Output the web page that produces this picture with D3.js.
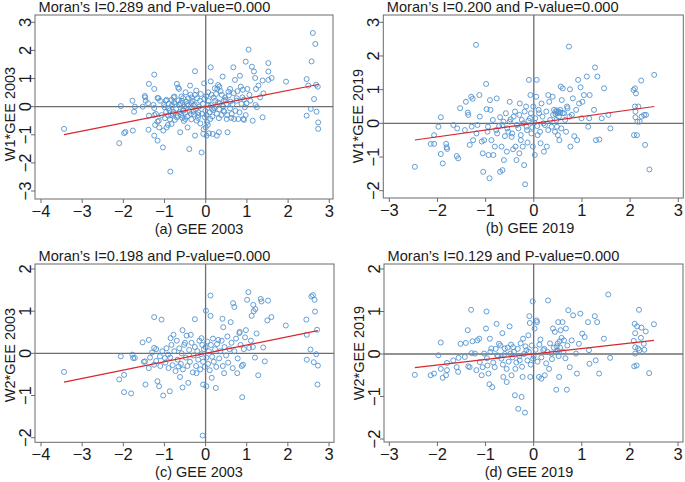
<!DOCTYPE html>
<html><head><meta charset="utf-8">
<script src="https://cdn.jsdelivr.net/npm/d3@7"></script>
<style>body{margin:0;background:#fff}svg text{font-family:"Liberation Sans",Arial,sans-serif;fill:#1a1a1a}</style>
</head><body><svg id="chart" width="685" height="482"></svg>
<script>
// ---------- data ----------
const pointsA=[[-3.44,-0.79],[-2.10,-1.30],[-2.06,0.02],[-1.98,-0.94],[-1.95,-0.90],[-1.78,0.21],[-1.77,-0.85],[-1.72,0.0],[-1.74,-0.18],[-1.53,0.0],[-1.47,0.33],[-1.46,0.21],[-1.39,-0.82],[-1.38,0.81],[-1.38,-0.32],[-1.25,1.14],[-1.25,0.63],[-1.25,-0.05],[-1.25,-1.03],[-1.21,-0.26],[-1.17,0.31],[-1.17,-1.21],[-1.14,-0.5],[-1.13,-0.74],[-1.11,0.21],[-1.04,-1.45],[-1.03,-0.85],[-1.0,-0.02],[-0.97,0.21],[-0.95,-0.74],[-0.91,-0.32],[-0.88,-0.14],[-0.86,-2.31],[-0.83,-0.62],[-0.78,0.33],[-0.74,0.09],[-0.70,0.81],[-0.68,-0.32],[-0.65,0.63],[-0.62,-0.91],[-0.58,0.21],[-0.54,-0.14],[-0.50,-0.44],[-0.49,0.51],[-0.46,0.09],[-0.44,-0.74],[-0.40,-1.51],[-0.38,0.75],[-0.36,-0.26],[-0.34,0.33],[-0.30,0.04],[-0.26,1.26],[-0.26,-1.03],[-0.23,0.57],[-0.22,-0.5],[-0.18,-0.2],[-0.14,0.21],[-0.10,-1.63],[-0.06,-0.97],[-0.04,0.83],[-0.02,-0.38],[0,-0.74],[0.02,-1.03],[0.06,0.51],[0.11,-0.44],[0.12,1.40],[0.12,0.9],[0.15,-0.08],[0.17,-0.97],[0.23,0.21],[0.27,-1.03],[0.28,0.63],[0.32,-0.91],[0.33,0.71],[0.41,1.07],[0.43,-0.14],[0.47,0.33],[0.51,-0.44],[0.53,-0.91],[0.59,0.63],[0.63,-0.26],[0.67,1.40],[0.71,0.95],[0.75,0.21],[0.79,-0.44],[0.83,1.10],[0.85,0.71],[0.89,0.33],[0.91,-0.44],[0.95,-0.02],[0.97,1.60],[1.01,0.63],[1.04,2.03],[1.08,0.21],[1.12,1.42],[1.14,-0.5],[1.17,1.25],[1.20,1.02],[1.22,0.63],[1.24,-0.02],[1.28,0.75],[1.32,0.33],[1.38,0.93],[1.38,-0.38],[1.40,0.47],[1.52,1.55],[1.52,1.25],[1.52,0.95],[1.60,1.02],[1.95,0.89],[2.45,0.98],[2.45,-0.32],[2.49,0.75],[2.55,-0.08],[2.57,1.61],[2.60,2.62],[2.63,0.27],[2.66,2.23],[2.68,0.78],[2.69,-0.18],[2.72,0.71],[2.73,-0.79],[2.73,-0.56],
[-1.48,0.38],[-1.40,0.12],[-1.27,0.06],[-1.25,-0.30],[-1.23,-0.65],[-1.15,0.30],[-1.17,-0.53],[-1.07,-0.30],[-1.01,0.06],[-0.99,-0.41],[-0.95,0.24],[-0.92,-0.65],[-0.91,-0.06],[-0.84,-0.30],[-0.83,0.24],[-0.79,-0.18],[-0.76,0.36],[-0.75,-0.47],[-0.67,0.68],[-0.65,0.06],[-0.60,-0.30],[-0.59,0.36],[-0.55,-0.12],[-0.53,-0.51],[-0.42,0.30],[-0.34,0.12],[-0.30,-0.18],[-0.26,0.42],[-0.18,-0.30],[0.02,-0.30],[0.05,0.06],[0.08,-0.95],[0.14,0.42],[0.18,-0.12],[0.22,0.65],[0.30,0.77],[0.32,-0.41],[0.34,0.12],[0.39,0.42],[0.45,-0.18],[0.48,0.24],[0.55,0.53],[0.59,-0.06],[0.69,-0.44],[0.75,0.30],[0.93,-0.47],[0.99,0.12],[1.06,0.42],[1.21,0.06],
[-0.96,-0.18],[-0.9,0.1],[-0.87,-0.45],[-0.82,0.05],[-0.8,-0.25],[-0.77,0.15],[-0.72,-0.08],[-0.7,-0.38],[-0.66,0.22],[-0.63,-0.2],[-0.61,0.12],[-0.57,-0.4],[-0.55,0.3],[-0.52,0.0],[-0.5,-0.22],[-0.47,0.18],[-0.45,-0.35],[-0.43,0.05],[-0.4,-0.15],[-0.37,0.42],[-0.35,-0.45],[-0.32,0.2],[-0.29,-0.28],[-0.27,0.08],[-0.24,-0.1],[-0.21,0.3],[-0.19,-0.4],[-0.16,0.0],[-0.13,-0.6],[-0.12,0.45],[-0.09,-0.25],[-0.07,0.1],[-0.05,-0.8],[-0.03,0.28],[-0.01,-0.15],[0.01,0.38],[0.03,-0.55],[0.05,-0.65],[0.07,0.2],[0.09,-0.2],[0.13,0.05],[0.16,-0.35],[0.19,0.32],[0.21,-0.05],[0.25,0.45],[0.27,-0.25],[0.3,0.15],[0.33,-0.1],[0.36,0.55],[0.38,-0.3],[0.42,0.02],[0.44,0.22],[0.5,0.1],[0.52,-0.3],[0.56,0.4],[0.6,0.18],[0.62,-0.4],[0.65,0.08],[0.68,0.48],[0.72,-0.15],[0.77,0.55],[0.82,-0.2],[0.87,0.1],[0.9,0.6],[0.93,0.25],[0.97,-0.3]];

const pointsB=[[-2.47,-1.29],[-2.14,-0.61],[-2.07,-0.61],[-2.07,-0.35],[-1.98,-0.10],[-1.93,0.18],[-1.93,-0.91],[-1.89,-1.19],[-1.82,-0.61],[-1.81,-0.71],[-1.80,-0.76],[-1.67,-0.05],[-1.60,-0.97],[-1.57,-1.04],[-1.59,-0.15],[-1.53,0.45],[-1.43,-0.20],[-1.41,0.64],[-1.37,0.32],[-1.36,0.25],[-1.33,-0.64],[-1.30,0.79],[-1.29,-0.10],[-1.27,0.73],[-1.26,-0.50],[-1.20,2.33],[-1.19,-0.30],[-1.17,-0.05],[-1.13,0.84],[-1.12,0.20],[-1.08,-0.54],[-1.06,-0.89],[-1.05,-1.44],[-1.03,-0.50],[-0.99,1.17],[-0.98,0.42],[-0.96,-0.25],[-0.94,-0.94],[-0.92,-1.63],[-0.91,0.69],[-0.90,0.40],[-0.88,-0.50],[-0.84,-0.94],[-0.81,-0.69],[-0.77,0.74],[-0.76,-0.30],[-0.72,-0.08],[-0.70,-1.44],[-0.67,-0.69],[-0.65,-1.39],[-0.63,0.05],[-0.62,-1.09],[-0.60,-0.38],[-0.56,-0.84],[-0.53,-0.25],[-0.50,0.64],[-0.48,0.12],[-0.46,-0.40],[-0.43,-0.77],[-0.39,0.35],[-0.38,-0.69],[-0.36,-1.09],[-0.32,-0.15],[-0.30,-0.89],[-0.29,0.59],[-0.27,-0.50],[-0.25,0.10],[-0.23,-0.69],[-0.20,-1.24],[-0.18,-1.81],[-0.16,0.50],[-0.15,-0.10],[-0.13,-0.57],[-0.10,1.29],[-0.08,0.15],[-0.07,0.84],[-0.05,-0.30],[-0.02,-0.69],[-0.01,0.50],[0.01,0.02],[0.02,-0.94],[0.05,0.79],[0.06,1.29],[0.08,-0.35],[0.11,0.30],[0.14,-0.59],[0.16,0.59],[0.20,0.0],[0.21,-0.84],[0.27,-0.69],[0.30,0.84],[0.32,0.64],[0.37,-0.10],[0.39,0.79],[0.42,0.40],[0.44,-0.25],[0.47,0.10],[0.50,-0.35],[0.51,0.35],[0.53,-0.50],[0.56,1.09],[0.58,0.69],[0.60,1.04],[0.63,0.30],[0.67,-0.25],[0.69,0.50],[0.73,2.28],[0.75,1.01],[0.76,-0.69],[0.79,0.25],[0.81,0.74],[0.84,-0.38],[0.88,0.40],[0.90,-0.50],[0.92,1.29],[0.94,0.59],[0.97,1.07],[0.99,0.15],[1.01,0.64],[1.04,0.84],[1.10,1.39],[1.13,-0.10],[1.15,0.15],[1.16,0.84],[1.25,0.40],[1.27,1.66],[1.29,-0.50],[1.32,1.39],[1.36,-0.48],[1.41,0.15],[1.46,1.04],[1.55,0.25],[1.59,-0.15],[2.07,0.99],[2.08,-0.35],[2.10,1.04],[2.10,0.50],[2.11,0.35],[2.11,0.18],[2.12,0.89],[2.14,-0.35],[2.15,0.05],[2.17,0.50],[2.20,0.05],[2.23,1.27],[2.24,0.20],[2.29,0.25],[2.31,-0.64],[2.33,0.25],[2.40,-1.37],[2.50,1.44],
[-0.95,-0.1],[-0.85,0.1],[-0.78,-0.2],[-0.7,0.18],[-0.65,-0.05],[-0.58,0.3],[-0.55,-0.15],[-0.5,0.05],[-0.45,-0.3],[-0.42,0.2],[-0.35,-0.05],[-0.3,0.25],[-0.27,-0.35],[-0.22,0.0],[-0.19,0.35],[-0.14,-0.2],[-0.11,0.08],[-0.06,0.3],[-0.03,-0.12],[0.03,0.15],[0.07,-0.08],[0.1,0.4],[0.13,-0.25],[0.18,0.2],[0.23,-0.05],[0.26,0.35],[0.3,-0.2],[0.34,0.1],[0.4,0.25],[0.45,0.35],[0.48,-0.1],[0.52,0.2],[0.55,0.4],[0.57,-0.15],[0.6,0.3],[0.65,0.1],[0.7,0.45],[0.74,0.2],[0.5,0.3],[0.45,0.28],[0.55,0.32],[0.48,0.38]];

const pointsC=[[-3.44,-0.44],[-2.10,-0.62],[-2.06,-0.07],[-1.98,-0.51],[-1.98,-0.92],[-1.81,-0.95],[-1.78,-0.03],[-1.76,-0.11],[-1.72,-0.11],[-1.53,0.26],[-1.47,-0.19],[-1.46,-0.74],[-1.38,0.32],[-1.38,-0.35],[-1.25,0.86],[-1.25,0.13],[-1.25,-0.27],[-1.17,-0.66],[-1.13,-0.78],[-1.11,-0.07],[-1.07,0.80],[-1.03,-1.0],[-0.99,-0.11],[-0.91,-0.03],[-0.87,-0.9],[-0.85,0.36],[-0.78,0.44],[-0.66,-0.31],[-0.62,-0.56],[-0.56,0.55],[-0.56,-0.81],[-0.50,0.25],[-0.42,-0.70],[-0.36,0.44],[-0.26,0.81],[-0.22,-0.47],[-0.10,0.36],[-0.07,-1.95],[-0.06,-0.74],[0.01,1.01],[0.02,-0.78],[0.12,1.37],[0.12,0.89],[0.15,-0.58],[0.25,-0.82],[0.31,0.32],[0.41,0.82],[0.43,0.62],[0.45,-0.47],[0.61,0.74],[0.67,1.19],[0.70,1.10],[0.77,-0.47],[0.82,0.48],[0.83,0.51],[0.89,-1.04],[0.91,-0.27],[0.98,0.55],[1.01,1.27],[1.04,1.45],[1.06,0.13],[1.12,0.89],[1.16,1.15],[1.17,1.0],[1.21,1.05],[1.24,0.47],[1.28,-0.52],[1.34,1.29],[1.36,1.23],[1.40,0.14],[1.44,-0.19],[1.50,0.78],[1.52,1.25],[1.60,0.86],[1.95,0.66],[2.45,0.80],[2.46,0.44],[2.46,-0.15],[2.55,0.09],[2.57,1.35],[2.61,1.38],[2.63,-0.21],[2.65,1.27],[2.66,0.99],[2.69,-0.02],[2.71,0.56],[2.72,-0.74],[2.73,-0.29],
[-1.2,-0.18],[-1.1,-0.3],[-1.05,0.05],[-0.98,-0.22],[-0.95,0.12],[-0.9,-0.35],[-0.86,-0.1],[-0.83,0.2],[-0.8,-0.28],[-0.76,0.05],[-0.73,-0.42],[-0.7,0.3],[-0.68,-0.15],[-0.64,0.12],[-0.6,-0.25],[-0.58,0.0],[-0.55,-0.38],[-0.52,0.2],[-0.48,-0.1],[-0.46,0.42],[-0.44,-0.3],[-0.4,0.08],[-0.38,-0.2],[-0.34,0.25],[-0.31,-0.45],[-0.29,-0.05],[-0.26,0.15],[-0.23,-0.3],[-0.2,0.05],[-0.18,-0.15],[-0.15,0.3],[-0.13,-0.38],[-0.11,-0.02],[-0.08,0.2],[-0.06,-0.2],[-0.04,0.1],[-0.02,-0.32],[0.0,0.15],[0.02,-0.1],[0.04,0.28],[0.06,-0.25],[0.08,0.05],[0.1,-0.4],[0.13,0.2],[0.16,-0.08],[0.18,0.35],[0.2,-0.2],[0.23,0.1],[0.26,-0.32],[0.28,0.22],[0.33,-0.12],[0.36,0.05],[0.39,0.3],[0.42,-0.3],[0.46,0.15],[0.5,-0.05],[0.53,0.4],[0.55,-0.22],[0.58,0.1],[0.63,0.25],[0.66,-0.35],[0.7,0.05],[0.74,0.35],[0.78,-0.12],[0.85,0.2],[0.88,-0.3],[0.93,0.1],[0.96,0.38],[1.1,0.3],[1.2,-0.1],[1.15,0.15],[-1.5,-0.2],[-1.35,-0.1],[-1.3,0.02],[-1.2,0.1]];

const pointsD=[[-2.47,-0.49],[-2.14,-0.50],[-2.07,-0.46],[-1.98,-0.03],[-1.93,0.27],[-1.93,-0.35],[-1.89,-0.56],[-1.82,-0.50],[-1.80,-0.38],[-1.80,-0.21],[-1.67,-0.15],[-1.60,-0.31],[-1.57,-0.42],[-1.56,-0.09],[-1.52,0.24],[-1.43,-0.07],[-1.41,0.26],[-1.37,0.56],[-1.36,-0.29],[-1.33,-0.31],[-1.30,1.04],[-1.29,0.02],[-1.27,0.30],[-1.22,0.01],[-1.19,-0.38],[-1.17,0.32],[-1.13,0.36],[-1.12,-0.19],[-1.08,-0.50],[-1.06,-0.31],[-1.03,0.01],[-0.99,0.60],[-0.98,1.00],[-0.96,-0.27],[-0.94,-0.46],[-0.92,-0.71],[-0.91,0.36],[-0.88,0.13],[-0.86,-0.78],[-0.81,-0.31],[-0.77,0.71],[-0.76,-0.03],[-0.72,0.24],[-0.67,-0.11],[-0.65,0.49],[-0.63,-0.54],[-0.60,0.13],[-0.56,-0.35],[-0.56,-0.66],[-0.50,0.65],[-0.48,0.01],[-0.46,-0.50],[-0.43,0.16],[-0.39,-0.97],[-0.38,-0.35],[-0.32,-1.29],[-0.29,-0.15],[-0.25,-1.01],[-0.23,-0.54],[-0.22,0.36],[-0.18,-1.38],[-0.15,0.09],[-0.11,0.44],[-0.09,0.89],[-0.08,0.73],[-0.07,-0.54],[-0.02,1.24],[-0.01,-0.11],[0.02,0.60],[0.06,0.79],[0.07,0.75],[0.11,-0.54],[0.14,0.34],[0.16,-0.58],[0.20,0.09],[0.23,-0.50],[0.30,1.26],[0.32,-0.35],[0.37,0.01],[0.40,0.60],[0.44,0.52],[0.47,-0.84],[0.51,0.75],[0.53,-0.54],[0.56,0.56],[0.60,0.75],[0.63,0.32],[0.67,0.60],[0.69,-0.84],[0.72,1.03],[0.75,-0.31],[0.79,0.32],[0.82,0.91],[0.88,0.01],[0.90,-0.46],[0.94,0.24],[0.97,0.95],[1.01,0.48],[1.06,0.40],[1.13,0.75],[1.15,0.09],[1.16,-0.23],[1.27,0.89],[1.29,-0.15],[1.32,0.75],[1.36,-0.46],[1.46,0.36],[1.55,1.40],[1.59,-0.09],[2.08,0.31],[2.09,-0.29],[2.10,0.71],[2.11,0.49],[2.11,0.16],[2.11,0.01],[2.14,-0.27],[2.15,0.65],[2.17,0.13],[2.19,1.04],[2.20,0.09],[2.23,0.38],[2.24,0.62],[2.29,0.24],[2.30,0.10],[2.33,0.53],[2.40,-0.45],[2.50,0.70],
[-0.97,-0.1],[-0.9,0.05],[-0.84,-0.2],[-0.79,0.12],[-0.74,-0.05],[-0.69,0.2],[-0.64,-0.25],[-0.6,0.0],[-0.54,0.15],[-0.52,-0.18],[-0.47,0.22],[-0.44,-0.08],[-0.41,0.05],[-0.36,-0.2],[-0.33,0.12],[-0.3,-0.05],[-0.27,0.25],[-0.24,-0.3],[-0.2,0.0],[-0.17,0.18],[-0.13,-0.15],[-0.1,0.05],[-0.06,-0.25],[-0.04,0.2],[0.0,-0.05],[0.04,0.1],[0.08,-0.18],[0.12,0.22],[0.16,-0.08],[0.22,0.12],[0.26,-0.22],[0.29,0.05],[0.34,0.25],[0.38,-0.12],[0.42,0.15],[0.46,0.05],[0.5,0.25],[0.52,-0.05],[0.55,0.15],[0.58,0.38],[0.62,0.05],[0.66,-0.1],[0.7,0.2],[0.5,0.08],[0.48,0.18],[0.54,0.3]];

const moranI=[0.289,0.200,0.198,0.129];
const pValues=["0.000","0.000","0.000","0.000"];
const xTitles=["(a) GEE 2003","(b) GEE 2019","(c) GEE 2003","(d) GEE 2019"];
const yTitles=["W1*GEE 2003","W1*GEE 2019","W2*GEE 2003","W2*GEE 2019"];
const xTicks2003=[-4,-3,-2,-1,0,1,2,3];
const xTicks2019=[-3,-2,-1,0,1,2,3];
const yTicksA=[-3,-2,-1,0,1,2,3];
const yTicksB=[-2,-1,0,1,2,3];
const yTicksCD=[-2,-1,0,1,2];

// ---------- layout ----------
const panels=[
 {pts:pointsA,xt:xTicks2003,yt:yTicksA,frame:[35,15,333,199],xr:[41,329.3],yr:[191,22.3],xtc:199,ytc:114},
 {pts:pointsB,xt:xTicks2019,yt:yTicksB,frame:[383.3,15,683.3,198],xr:[389.3,678.3],yr:[190.7,22.3],xtc:530,ytc:116},
 {pts:pointsC,xt:xTicks2003,yt:yTicksCD,frame:[35,264,334,442.3],xr:[41,329],yr:[437.7,269],xtc:199,ytc:355},
 {pts:pointsD,xt:xTicks2019,yt:yTicksCD,frame:[384,264,683,442],xr:[389.3,678],yr:[439,269],xtc:529,ytc:353}
];
const fmt=v=>String(v).replace("-","\u2212");
const svg=d3.select("#chart");
svg.append("rect").attr("width",685).attr("height",482).attr("fill","#fff");

panels.forEach((p,i)=>{
  const [L,T,R,B]=p.frame;
  const x=d3.scaleLinear().domain([p.xt[0],p.xt[p.xt.length-1]]).range(p.xr);
  const y=d3.scaleLinear().domain([p.yt[0],p.yt[p.yt.length-1]]).range(p.yr);
  const g=svg.append("g");
  g.append("line").attr("x1",x(0)).attr("x2",x(0)).attr("y1",T).attr("y2",B).attr("stroke","#6e6e6e").attr("stroke-width",1.3);
  g.append("line").attr("x1",L).attr("x2",R).attr("y1",y(0)).attr("y2",y(0)).attr("stroke","#6e6e6e").attr("stroke-width",1.3);
  g.selectAll("circle").data(p.pts).join("circle")
    .attr("cx",d=>x(d[0])).attr("cy",d=>y(d[1])).attr("r",2.5)
    .attr("fill","none").attr("stroke","#5293cf").attr("stroke-width",0.9);
  const ext=d3.extent(p.pts,d=>d[0]);
  g.append("line").attr("x1",x(ext[0])).attr("y1",y(moranI[i]*ext[0])).attr("x2",x(ext[1])).attr("y2",y(moranI[i]*ext[1]))
    .attr("stroke","#d8262e").attr("stroke-width",1.2);
  g.append("rect").attr("x",L).attr("y",T).attr("width",R-L).attr("height",B-T).attr("fill","none").attr("stroke","#6a6a6a").attr("stroke-width",1);
  p.xt.forEach(v=>{
    g.append("line").attr("x1",x(v)).attr("x2",x(v)).attr("y1",B).attr("y2",B+4).attr("stroke","#6a6a6a");
    g.append("text").attr("x",x(v)).attr("y",B+17.5).attr("text-anchor","middle").attr("font-size",16.5).text(fmt(v));
  });
  p.yt.forEach(v=>{
    g.append("line").attr("x1",L-4).attr("x2",L).attr("y1",y(v)).attr("y2",y(v)).attr("stroke","#6a6a6a");
    g.append("text").attr("transform",`translate(${L-4},${y(v)}) rotate(-90)`).attr("text-anchor","middle").attr("font-size",16.5).text(fmt(v));
  });
  g.append("text").attr("x",L+3.5).attr("y",T-3).attr("font-size",14.6).text(`Moran\u2019s I=${moranI[i].toFixed(3)} and P-value=${pValues[i]}`);
  g.append("text").attr("x",p.xtc).attr("y",B+34.5).attr("text-anchor","middle").attr("font-size",14.5).text(xTitles[i]);
  g.append("text").attr("transform",`translate(${L-20},${p.ytc}) rotate(-90)`).attr("text-anchor","middle").attr("font-size",14.5).text(yTitles[i]);
});
</script></body></html>
